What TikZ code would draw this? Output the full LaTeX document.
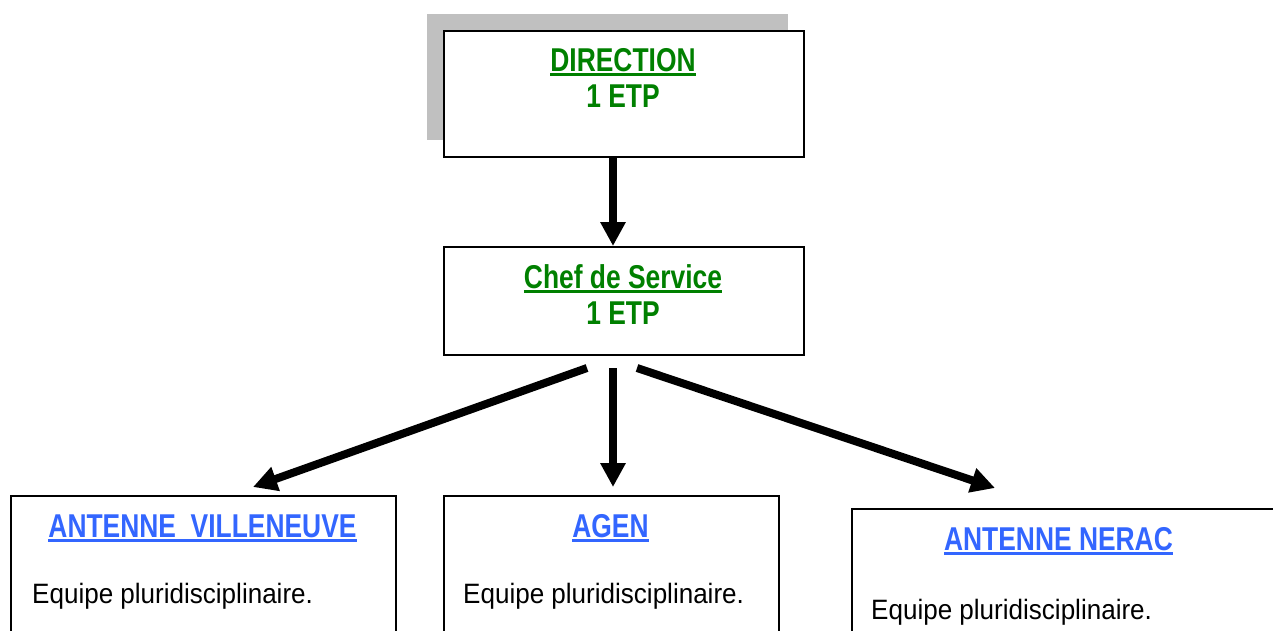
\documentclass[tikz,border=0pt]{standalone}
\usepackage{fontspec}
\setmainfont{Liberation Sans}[FakeStretch=0.8]
\newfontfamily\corps{Liberation Sans}[FakeStretch=0.93]
\usetikzlibrary{arrows.meta}
\definecolor{vert}{RGB}{0,128,0}
\definecolor{bleu}{RGB}{51,102,255}
\definecolor{ombre}{RGB}{192,192,192}
\newcommand{\undr}[1]{\leavevmode\setbox0\hbox{#1}\rlap{\vrule width\wd0 height -2pt depth 5pt}\box0}
\tikzset{
  boite/.style={draw=black,line width=2pt,fill=white,inner sep=0pt,anchor=north west},
  titre/.style={font=\bfseries\fontsize{33}{36}\selectfont,anchor=base,inner sep=0pt},
  texte/.style={font=\corps\fontsize{28}{32}\selectfont,anchor=base west,inner sep=0pt},
  fleche/.style={line width=8pt,-{Triangle[length=24pt,width=24pt]}}
}
\begin{document}
\begin{tikzpicture}[line join=miter,x=1pt,y=-1pt]
\useasboundingbox (0,0) rectangle (1273,630);
\clip (0,0) rectangle (1273,630);
\fill[ombre] (427,14) rectangle (788,140);
\node[boite,minimum width=360pt,minimum height=126pt] (direction) at (443,30) {};
\node[titre,text=vert] (dirnom) at (623,71) {\undr{DIRECTION}};
\node[titre,text=vert] (diretp) at (623,107) {1 ETP};
\node[boite,minimum width=360pt,minimum height=108pt] (chef) at (443,246) {};
\node[titre,text=vert] (chefnom) at (623,288) {\undr{Chef de Service}};
\node[titre,text=vert] (chefetp) at (623,324) {1 ETP};
% antennes
\node[boite,minimum width=385pt,minimum height=200pt] (villeneuve) at (10,495) {};
\node[titre,text=bleu] (villenom) at (202.5,537) {\undr{ANTENNE\ \ VILLENEUVE}};
\node[texte] (villeeq) at (32,603) {Equipe pluridisciplinaire.};
\node[boite,minimum width=335pt,minimum height=200pt] (agen) at (443,495) {};
\node[titre,text=bleu] (agennom) at (610.5,537) {\undr{AGEN}};
\node[texte] (ageneq) at (463,603) {Equipe pluridisciplinaire.};
\node[boite,minimum width=440pt,minimum height=200pt] (nerac) at (851,508) {};
\node[titre,text=bleu] (neracnom) at (1058.5,550) {\undr{ANTENNE NERAC}};
\node[texte] (neraceq) at (871,619) {Equipe pluridisciplinaire.};
% fleches
\draw[fleche] ([xshift=-11pt]direction.south) -- ([xshift=-11pt]chef.north);
\draw[fleche] ([xshift=-37pt,yshift=-12pt]chef.south) -- ([xshift=49.5pt,yshift=8pt]villeneuve.north);
\draw[fleche] ([xshift=-11pt,yshift=-12pt]chef.south) -- ([xshift=1.5pt,yshift=8pt]agen.north);
\draw[fleche] ([xshift=13pt,yshift=-12pt]chef.south) -- ([xshift=144pt,yshift=20pt]nerac.north west);
\end{tikzpicture}
\end{document}
